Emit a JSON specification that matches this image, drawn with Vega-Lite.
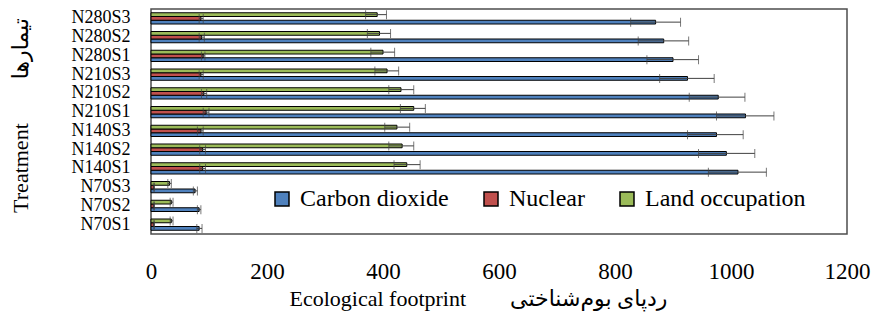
{
  "$schema": "https://vega.github.io/schema/vega-lite/v6.json",
  "width": 696,
  "height": 225,
  "autosize": "none",
  "padding": {"left": 151, "top": 9, "right": 25, "bottom": 84},
  "background": "white",
  "config": {
    "view": {"stroke": "#4d4d4d", "strokeWidth": 1.5},
    "font": "'Liberation Serif', serif",
    "axis": {"labelFont": "'Liberation Serif', serif", "titleFont": "'Liberation Serif', 'DejaVu Sans', serif"},
    "legend": {"labelFont": "'Liberation Serif', serif"}
  },
  "data": {
    "values": [
      {"t": "N280S3", "s": "Carbon dioxide", "v": 870, "lo": 827, "hi": 913},
      {"t": "N280S2", "s": "Carbon dioxide", "v": 884, "lo": 840, "hi": 927},
      {"t": "N280S1", "s": "Carbon dioxide", "v": 900, "lo": 855, "hi": 944},
      {"t": "N210S3", "s": "Carbon dioxide", "v": 925, "lo": 877, "hi": 971},
      {"t": "N210S2", "s": "Carbon dioxide", "v": 978, "lo": 928, "hi": 1024},
      {"t": "N210S1", "s": "Carbon dioxide", "v": 1025, "lo": 975, "hi": 1074},
      {"t": "N140S3", "s": "Carbon dioxide", "v": 975, "lo": 925, "hi": 1021},
      {"t": "N140S2", "s": "Carbon dioxide", "v": 992, "lo": 944, "hi": 1041},
      {"t": "N140S1", "s": "Carbon dioxide", "v": 1012, "lo": 961, "hi": 1061},
      {"t": "N70S3", "s": "Carbon dioxide", "v": 76, "lo": 73, "hi": 80},
      {"t": "N70S2", "s": "Carbon dioxide", "v": 83, "lo": 80, "hi": 86},
      {"t": "N70S1", "s": "Carbon dioxide", "v": 83, "lo": 79, "hi": 88},
      {"t": "N280S3", "s": "Nuclear", "v": 86, "lo": 83, "hi": 90},
      {"t": "N280S2", "s": "Nuclear", "v": 87, "lo": 83, "hi": 92},
      {"t": "N280S1", "s": "Nuclear", "v": 90, "lo": 87, "hi": 93},
      {"t": "N210S3", "s": "Nuclear", "v": 86, "lo": 83, "hi": 90},
      {"t": "N210S2", "s": "Nuclear", "v": 91, "lo": 87, "hi": 96},
      {"t": "N210S1", "s": "Nuclear", "v": 95, "lo": 90, "hi": 100},
      {"t": "N140S3", "s": "Nuclear", "v": 86, "lo": 80, "hi": 90},
      {"t": "N140S2", "s": "Nuclear", "v": 89, "lo": 84, "hi": 94},
      {"t": "N140S1", "s": "Nuclear", "v": 89, "lo": 84, "hi": 94},
      {"t": "N70S3", "s": "Nuclear", "v": 5, "lo": 4, "hi": 6},
      {"t": "N70S2", "s": "Nuclear", "v": 5, "lo": 4, "hi": 6},
      {"t": "N70S1", "s": "Nuclear", "v": 5, "lo": 4, "hi": 6},
      {"t": "N280S3", "s": "Land occupation", "v": 390, "lo": 370, "hi": 406},
      {"t": "N280S2", "s": "Land occupation", "v": 394, "lo": 373, "hi": 413},
      {"t": "N280S1", "s": "Land occupation", "v": 400, "lo": 379, "hi": 420},
      {"t": "N210S3", "s": "Land occupation", "v": 407, "lo": 386, "hi": 427},
      {"t": "N210S2", "s": "Land occupation", "v": 431, "lo": 410, "hi": 453},
      {"t": "N210S1", "s": "Land occupation", "v": 453, "lo": 430, "hi": 473},
      {"t": "N140S3", "s": "Land occupation", "v": 424, "lo": 403, "hi": 446},
      {"t": "N140S2", "s": "Land occupation", "v": 433, "lo": 410, "hi": 453},
      {"t": "N140S1", "s": "Land occupation", "v": 441, "lo": 419, "hi": 464},
      {"t": "N70S3", "s": "Land occupation", "v": 32, "lo": 29, "hi": 35},
      {"t": "N70S2", "s": "Land occupation", "v": 35, "lo": 33, "hi": 38},
      {"t": "N70S1", "s": "Land occupation", "v": 35, "lo": 33, "hi": 38}
    ]
  },
  "encoding": {
    "y": {
      "field": "t",
      "type": "nominal",
      "sort": ["N280S3","N280S2","N280S1","N210S3","N210S2","N210S1","N140S3","N140S2","N140S1","N70S3","N70S2","N70S1"],
      "scale": {"paddingInner": 0.4, "paddingOuter": 0.2},
      "axis": {
        "title": "Treatment\u00a0\u00a0\u00a0\u00a0\u00a0\u00a0\u00a0\u00a0تیمارها",
        "titleFontSize": 22,
        "titleFontWeight": "normal",
        "titleColor": "#000",
        "titleAngle": -90,
        "titleX": -131,
        "titleY": 106,
        "titleAlign": "center",
        "titleBaseline": "middle",
        "labelFontSize": 18,
        "labelColor": "#000",
        "labelPadding": 21,
        "ticks": false,
        "domain": false
      }
    },
    "yOffset": {
      "field": "s",
      "type": "nominal",
      "scale": {"domain": ["Land occupation", "Nuclear", "Carbon dioxide"]}
    }
  },
  "layer": [
    {
      "mark": {"type": "bar", "stroke": "#000", "strokeWidth": 1},
      "encoding": {
        "x": {
          "field": "v",
          "type": "quantitative",
          "scale": {"domain": [0, 1200], "nice": false},
          "axis": {
            "values": [0, 200, 400, 600, 800, 1000, 1200],
            "format": "d",
            "grid": false,
            "ticks": false,
            "domain": false,
            "labelFontSize": 23,
            "labelColor": "#000",
            "labelPadding": 26,
            "labelFlush": false,
            "title": "Ecological footprint\u00a0\u00a0\u00a0\u00a0\u00a0\u00a0\u00a0\u00a0ردپای بوم‌شناختی",
            "titleFontSize": 22,
            "titleFontWeight": "normal",
            "titleColor": "#000",
            "titleX": 327,
            "titleY": 64,
            "titleAlign": "center",
            "titleBaseline": "middle"
          }
        },
        "color": {
          "field": "s",
          "type": "nominal",
          "scale": {
            "domain": ["Carbon dioxide", "Nuclear", "Land occupation"],
            "range": ["#4f81bd", "#c0504d", "#9bbb59"]
          },
          "legend": {
            "title": null,
            "orient": "none",
            "direction": "horizontal",
            "legendX": 119,
            "legendY": 178,
            "padding": 0,
            "symbolType": "square",
            "symbolSize": 196,
            "symbolStrokeColor": "#000",
            "symbolStrokeWidth": 1.5,
            "symbolOpacity": 1,
            "labelFont": "'Liberation Serif', serif",
            "labelFontSize": 24,
            "labelColor": "#000",
            "labelOffset": 6,
            "columnPadding": 30,
            "labelLimit": 300
          }
        }
      }
    },
    {
      "mark": {"type": "rule", "color": "#404040", "strokeWidth": 1},
      "encoding": {
        "x": {"field": "lo", "type": "quantitative"},
        "x2": {"field": "hi"}
      }
    },
    {
      "mark": {"type": "tick", "color": "#404040", "size": 9, "thickness": 1, "orient": "vertical"},
      "encoding": {
        "x": {"field": "lo", "type": "quantitative"}
      }
    },
    {
      "mark": {"type": "tick", "color": "#404040", "size": 9, "thickness": 1, "orient": "vertical"},
      "encoding": {
        "x": {"field": "hi", "type": "quantitative"}
      }
    }
  ]
}
